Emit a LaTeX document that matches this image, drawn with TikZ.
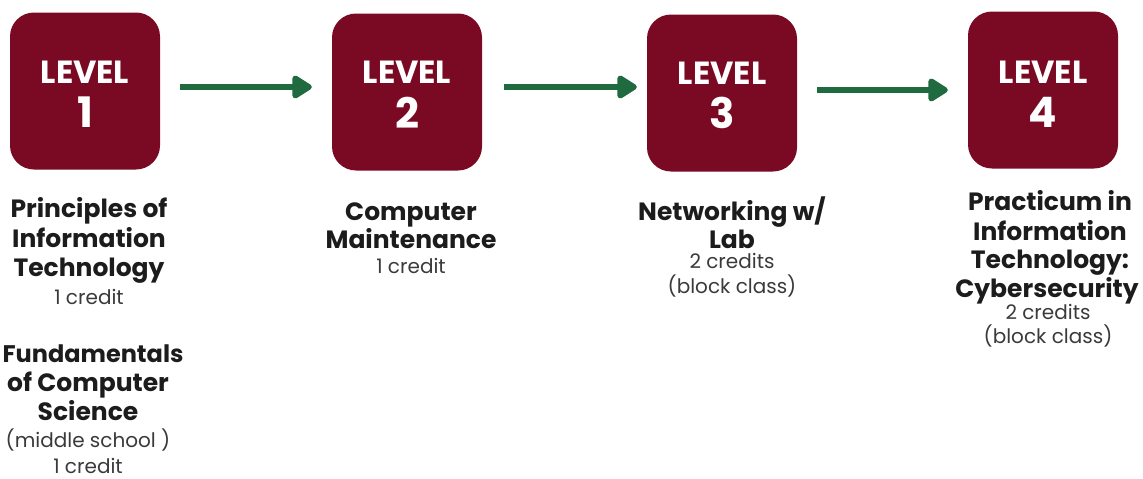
\documentclass[tikz,border=0pt]{standalone}
\usepackage{fontspec}
\setmainfont{Poppins}
\usetikzlibrary{arrows.meta}
\definecolor{maroon}{HTML}{7A0A23}
\definecolor{arrowgreen}{HTML}{1F6A3E}
\definecolor{inktext}{HTML}{1C1C1C}
\definecolor{softtext}{HTML}{3A3A3A}
\tikzset{
  levelbox/.style={fill=maroon, rounded corners=24pt, minimum width=150pt, minimum height=157pt, inner sep=0pt},
  leveltxt/.style={text=white, inner sep=0pt, font=\fontsize{32}{34}\selectfont\bfseries},
  levelnum/.style={text=white, inner sep=0pt, font=\fontsize{42}{44}\selectfont\bfseries},
  flow/.style={draw=arrowgreen, line width=6pt, -{Triangle[length=22pt,width=26pt,round]}},
  title/.style={anchor=base, text=inktext, inner sep=0pt, font=\fontsize{25}{29}\selectfont\bfseries},
  credit/.style={anchor=base, text=softtext, inner sep=0pt, font=\fontsize{20}{23}\selectfont},
}
\begin{document}
\begin{tikzpicture}[x=1pt,y=-1pt]
\useasboundingbox (0,0) rectangle (1143,479);
\node[levelbox] (b1) at (85,91) {};
\node[levelbox] (b2) at (407,92) {};
\node[levelbox] (b3) at (722,93) {};
\node[levelbox] (b4) at (1043,90) {};
\node[leveltxt] (l1) at (85,72) {LEVEL};
\node[levelnum] (n1) at (85,112.5) {1};
\node[leveltxt] (l2) at (407,72.5) {LEVEL};
\node[levelnum] (n2) at (407,112.5) {2};
\node[leveltxt] (l3) at (722,73) {LEVEL};
\node[levelnum] (n3) at (722,113) {3};
\node[leveltxt] (l4) at (1043,72) {LEVEL};
\node[levelnum] (n4) at (1043,112) {4};
\draw[flow, shorten <=20pt, shorten >=20pt] ([yshift=4pt]b1.east) -- ([yshift=5pt]b2.west);
\draw[flow, shorten <=22pt, shorten >=10pt] ([yshift=5pt]b2.east) -- ([yshift=6pt]b3.west);
\draw[flow, shorten <=20pt, shorten >=20pt] ([yshift=3pt]b3.east) -- ([yshift=0pt]b4.west);
% level 1
\node[title] (t1a) at (89,217) {Principles of};
\node[title] (t1b) at (89,247) {Information};
\node[title] (t1c) at (89,276) {Technology};
\node[credit] (c1a) at (89,304) {1 credit};
\node[title, font=\fontsize{24}{28}\selectfont\bfseries] (t1d) at (93,362) {Fundamentals};
\node[title] (t1e) at (88,391) {of Computer};
\node[title] (t1f) at (88,420) {Science};
\node[credit] (c1b) at (88,447) {(middle school )};
\node[credit] (c1c) at (88,473) {1 credit};
% level 2
\node[title] (t2a) at (411,220) {Computer};
\node[title] (t2b) at (411,248) {Maintenance};
\node[credit] (c2a) at (411,273) {1 credit};
% level 3
\node[title] (t3a) at (732,220) {Networking w/};
\node[title] (t3b) at (732,248) {Lab};
\node[credit] (c3a) at (732,268) {2 credits};
\node[credit] (c3b) at (732,293) {(block class)};
% level 4
\node[title] (t4a) at (1050,210) {Practicum in};
\node[title] (t4b) at (1050,240) {Information};
\node[title] (t4c) at (1050,268) {Technology:};
\node[title] (t4d) at (1047,297) {Cybersecurity};
\node[credit] (c4a) at (1048,319) {2 credits};
\node[credit] (c4b) at (1048,343) {(block class)};
\end{tikzpicture}
\end{document}
